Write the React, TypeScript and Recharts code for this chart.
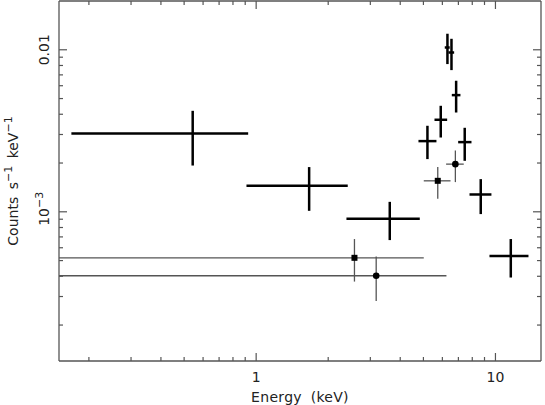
import React from 'react';
import { ScatterChart, Scatter, XAxis, YAxis, ErrorBar } from 'recharts';

// Thick crosses (main spectrum)
const thickE = [0.543, 1.665, 3.617, 5.197, 5.907, 6.30, 6.55, 6.85, 7.44, 8.68, 11.59];
const thickELo = [0.169, 0.911, 2.384, 4.767, 5.562, 6.14, 6.36, 6.57, 6.985, 7.79, 9.44];
const thickEHi = [0.926, 2.414, 4.828, 5.668, 6.283, 6.44, 6.72, 7.14, 7.94, 9.62, 13.74];
const thickC = [3.04e-3, 1.447e-3, 9.05e-4, 2.731e-3, 3.698e-3, 1.033e-2, 9.62e-3, 5.25e-3, 2.692e-3, 1.279e-3, 5.33e-4];
const thickCLo = [1.93e-3, 1.014e-3, 6.69e-4, 2.115e-3, 2.874e-3, 8.16e-3, 7.49e-3, 4.10e-3, 2.064e-3, 9.68e-4, 3.93e-4];
const thickCHi = [4.20e-3, 1.888e-3, 1.152e-3, 3.396e-3, 4.511e-3, 1.256e-2, 1.169e-2, 6.44e-3, 3.30e-3, 1.591e-3, 6.79e-4];

// Square markers series
const sqE = [2.575, 5.74];
const sqELo = [0.15, 5.017];
const sqEHi = [5.017, 6.49];
const sqC = [5.20e-4, 1.553e-3];
const sqCLo = [3.71e-4, 1.203e-3];
const sqCHi = [6.79e-4, 1.888e-3];

// Circle markers series
const ciE = [3.174, 6.80];
const ciELo = [0.15, 6.22];
const ciEHi = [6.24, 7.37];
const ciC = [4.03e-4, 1.969e-3];
const ciCLo = [2.82e-4, 1.525e-3];
const ciCHi = [5.30e-4, 2.39e-3];

const xTicks = [0.2, 0.3, 0.4, 0.5, 0.6, 0.7, 0.8, 0.9, 1, 2, 3, 4, 5, 6, 7, 8, 9, 10];
const xMajor = [1, 10];
const yTicks = [2e-4, 3e-4, 4e-4, 5e-4, 6e-4, 7e-4, 8e-4, 9e-4, 1e-3, 2e-3, 3e-3, 4e-3, 5e-3, 6e-3, 7e-3, 8e-3, 9e-3, 0.01];
const yMajor = [1e-3, 0.01];

const X_DOMAIN: [number, number] = [0.15, 15.5];
const Y_DOMAIN: [number, number] = [1.2e-4, 0.02];

const build = (E: number[], ELo: number[], EHi: number[], C: number[], CLo: number[], CHi: number[]) =>
  E.map((x, i) => ({
    x,
    y: C[i],
    ex: [x - ELo[i], EHi[i] - x],
    ey: [C[i] - CLo[i], CHi[i] - C[i]],
  }));

const thickData = build(thickE, thickELo, thickEHi, thickC, thickCLo, thickCHi);
const sqData = build(sqE, sqELo, sqEHi, sqC, sqCLo, sqCHi);
const ciData = build(ciE, ciELo, ciEHi, ciC, ciCLo, ciCHi);

const FONT = '"DejaVu Sans", sans-serif';
const AXIS = '#555';
const TEXT = '#222';
const MAJ = 8;
const MIN = 4;

const isMajor = (v: number, list: number[]) => list.some((m) => Math.abs(m - v) / m < 1e-6);

const BottomTick = (props: any) => {
  const { x, y, payload } = props;
  const v = payload.value;
  const maj = isMajor(v, xMajor);
  return (
    <g>
      <line x1={x} x2={x} y1={y} y2={y - (maj ? MAJ : MIN)} stroke={AXIS} strokeWidth={1.2} />
      {maj && (
        <text x={x} y={y + 21} textAnchor="middle" fontFamily={FONT} fontSize={14} fill={TEXT}>
          {String(v)}
        </text>
      )}
    </g>
  );
};

const TopTick = (props: any) => {
  const { x, y, payload } = props;
  const maj = isMajor(payload.value, xMajor);
  return <line x1={x} x2={x} y1={y} y2={y + (maj ? MAJ : MIN)} stroke={AXIS} strokeWidth={1.2} />;
};

const LeftTick = (props: any) => {
  const { x, y, payload } = props;
  const v = payload.value;
  const maj = isMajor(v, yMajor);
  let label: React.ReactNode = null;
  if (maj) {
    if (v === 0.01) {
      label = (
        <text transform={`translate(${x - 10},${y}) rotate(-90)`} textAnchor="middle" fontFamily={FONT} fontSize={14} fill={TEXT}>
          0.01
        </text>
      );
    } else {
      label = (
        <text transform={`translate(${x - 10},${y - 3}) rotate(-90)`} textAnchor="middle" fontFamily={FONT} fontSize={14} fill={TEXT}>
          10
          <tspan dy={-6} fontSize={11}>−3</tspan>
        </text>
      );
    }
  }
  return (
    <g>
      <line x1={x} x2={x + (maj ? MAJ : MIN)} y1={y} y2={y} stroke={AXIS} strokeWidth={1.2} />
      {label}
    </g>
  );
};

const RightTick = (props: any) => {
  const { x, y, payload } = props;
  const maj = isMajor(payload.value, yMajor);
  return <line x1={x} x2={x - (maj ? MAJ : MIN)} y1={y} y2={y} stroke={AXIS} strokeWidth={1.2} />;
};

const YTitle = (props: any) => {
  const vb = props.viewBox || { x: 0, y: 1, width: 59, height: 360 };
  const cy = vb.y + vb.height / 2;
  return (
    <text transform={`translate(${vb.x + 18},${cy}) rotate(-90)`} textAnchor="middle" fontFamily={FONT} fontSize={14} fill={TEXT} wordSpacing={3}>
      Counts s
      <tspan dy={-6} fontSize={11}>−1</tspan>
      <tspan dy={6}> keV</tspan>
      <tspan dy={-6} fontSize={11}>−1</tspan>
    </text>
  );
};

const XTitle = (props: any) => {
  const vb = props.viewBox || { x: 59, y: 361, width: 482, height: 44 };
  return (
    <text x={vb.x + vb.width / 2} y={vb.y + 41} textAnchor="middle" fontFamily={FONT} fontSize={14} fill={TEXT} wordSpacing={4} letterSpacing={0.3}>
      Energy (keV)
    </text>
  );
};

const Empty = () => <g />;
const Square = (props: any) => <rect x={props.cx - 3} y={props.cy - 3} width={6} height={6} fill="#000" />;
const Dot = (props: any) => <circle cx={props.cx} cy={props.cy} r={3.3} fill="#000" />;

export default function App() {
  return (
    <div style={{ position: 'absolute', left: 0, top: 0, background: '#fff' }}>
      <ScatterChart width={545} height={405} margin={{ top: 0, right: 0, bottom: 0, left: 0 }}>
        <XAxis
          xAxisId="b"
          type="number"
          dataKey="x"
          scale="log"
          domain={X_DOMAIN}
          allowDataOverflow
          ticks={xTicks}
          interval={0}
          tickSize={0}
          tickMargin={0}
          tick={<BottomTick />}
          tickLine={false}
          axisLine={{ stroke: AXIS, strokeWidth: 1.3 }}
          height={44}
          orientation="bottom"
          label={<XTitle />}
        />
        <XAxis
          xAxisId="t"
          type="number"
          dataKey="x"
          scale="log"
          domain={X_DOMAIN}
          allowDataOverflow
          ticks={xTicks}
          interval={0}
          tickSize={0}
          tickMargin={0}
          tick={<TopTick />}
          tickLine={false}
          axisLine={{ stroke: AXIS, strokeWidth: 1.3 }}
          height={1}
          orientation="top"
        />
        <YAxis
          yAxisId="l"
          type="number"
          dataKey="y"
          scale="log"
          domain={Y_DOMAIN}
          allowDataOverflow
          ticks={yTicks}
          interval={0}
          tickSize={0}
          tickMargin={0}
          tick={<LeftTick />}
          tickLine={false}
          axisLine={{ stroke: AXIS, strokeWidth: 1.3 }}
          width={59}
          orientation="left"
          label={<YTitle />}
        />
        <YAxis
          yAxisId="r"
          type="number"
          dataKey="y"
          scale="log"
          domain={Y_DOMAIN}
          allowDataOverflow
          ticks={yTicks}
          interval={0}
          tickSize={0}
          tickMargin={0}
          tick={<RightTick />}
          tickLine={false}
          axisLine={{ stroke: AXIS, strokeWidth: 1.3 }}
          width={4}
          orientation="right"
        />
        <Scatter xAxisId="b" yAxisId="l" data={sqData} shape={<Square />} isAnimationActive={false}>
          <ErrorBar dataKey={(d: any) => d.ex} direction="x" width={0} stroke="#555" strokeWidth={1.3} isAnimationActive={false} />
          <ErrorBar dataKey={(d: any) => d.ey} direction="y" width={0} stroke="#555" strokeWidth={1.3} isAnimationActive={false} />
        </Scatter>
        <Scatter xAxisId="b" yAxisId="l" data={ciData} shape={<Dot />} isAnimationActive={false}>
          <ErrorBar dataKey={(d: any) => d.ex} direction="x" width={0} stroke="#555" strokeWidth={1.3} isAnimationActive={false} />
          <ErrorBar dataKey={(d: any) => d.ey} direction="y" width={0} stroke="#555" strokeWidth={1.3} isAnimationActive={false} />
        </Scatter>
        <Scatter xAxisId="b" yAxisId="l" data={thickData} shape={<Empty />} isAnimationActive={false}>
          <ErrorBar dataKey={(d: any) => d.ex} direction="x" width={0} stroke="#000" strokeWidth={2.5} isAnimationActive={false} />
          <ErrorBar dataKey={(d: any) => d.ey} direction="y" width={0} stroke="#000" strokeWidth={2.5} isAnimationActive={false} />
        </Scatter>
      </ScatterChart>
    </div>
  );
}
